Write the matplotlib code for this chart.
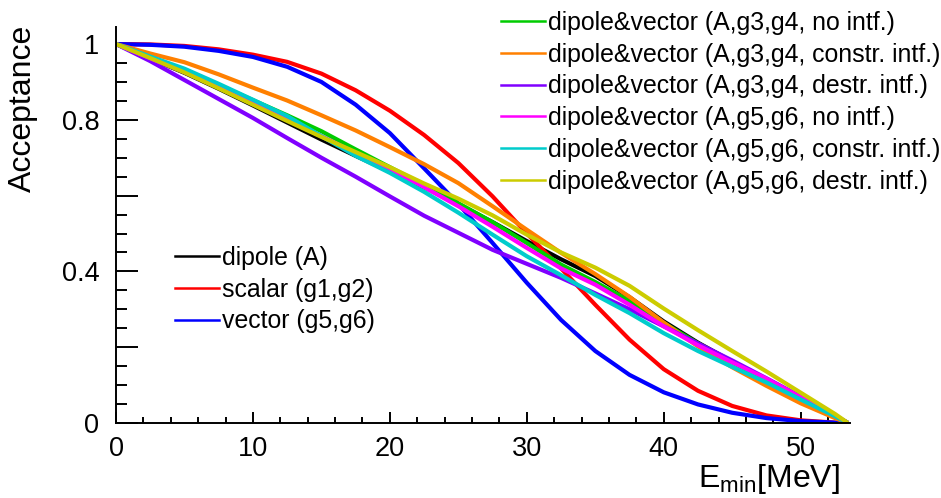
import matplotlib
matplotlib.use("Agg")
import matplotlib.pyplot as plt
from matplotlib.lines import Line2D
from matplotlib.ticker import MultipleLocator

plt.rcParams['font.family'] = ['Liberation Sans', 'DejaVu Sans']
plt.rcParams['mathtext.fontset'] = 'custom'
plt.rcParams['mathtext.rm'] = 'Liberation Sans'

# E_min grid (MeV) and acceptance values
e_min = [0, 2.5, 5, 7.5, 10, 12.5, 15, 17.5, 20, 22.5, 25, 27.5, 30,
         32.5, 35, 37.5, 40, 42.5, 45, 47.5, 50, 52.5, 53.45]

dipole = [1.0, 0.962, 0.924, 0.882, 0.838, 0.793, 0.748, 0.705, 0.663, 0.622, 0.578, 0.530,
          0.480, 0.432, 0.388, 0.332, 0.268, 0.212, 0.162, 0.113, 0.065, 0.018, 0.0]
scalar = [1.0, 0.999, 0.995, 0.986, 0.972, 0.953, 0.922, 0.878, 0.824, 0.76, 0.686, 0.598,
          0.50, 0.408, 0.312, 0.22, 0.142, 0.085, 0.045, 0.02, 0.007, 0.001, 0.0]
vector = [1.0, 0.998, 0.993, 0.982, 0.966, 0.94, 0.90, 0.84, 0.765, 0.672, 0.578, 0.475,
          0.37, 0.272, 0.19, 0.127, 0.081, 0.049, 0.027, 0.013, 0.005, 0.001, 0.0]
g34_no = [1.0, 0.965, 0.93, 0.892, 0.852, 0.812, 0.77, 0.722, 0.675, 0.628, 0.58, 0.53,
          0.475, 0.418, 0.372, 0.322, 0.264, 0.21, 0.16, 0.113, 0.066, 0.018, 0.0]
g34_con = [1.0, 0.975, 0.952, 0.92, 0.885, 0.851, 0.812, 0.772, 0.728, 0.683, 0.633, 0.572,
           0.51, 0.449, 0.393, 0.333, 0.265, 0.202, 0.147, 0.098, 0.052, 0.013, 0.0]
g34_des = [1.0, 0.955, 0.905, 0.855, 0.805, 0.752, 0.70, 0.65, 0.598, 0.547, 0.502, 0.457,
           0.42, 0.383, 0.342, 0.30, 0.255, 0.21, 0.165, 0.118, 0.07, 0.02, 0.0]
g56_no = [1.0, 0.963, 0.926, 0.886, 0.845, 0.80, 0.757, 0.712, 0.668, 0.622, 0.572, 0.518,
          0.462, 0.408, 0.365, 0.312, 0.255, 0.205, 0.16, 0.117, 0.068, 0.02, 0.0]
g56_con = [1.0, 0.967, 0.935, 0.895, 0.853, 0.81, 0.757, 0.705, 0.66, 0.61, 0.555, 0.497,
           0.44, 0.39, 0.338, 0.29, 0.237, 0.19, 0.148, 0.107, 0.062, 0.018, 0.0]
g56_des = [1.0, 0.963, 0.925, 0.883, 0.84, 0.797, 0.755, 0.715, 0.675, 0.632, 0.592, 0.548,
           0.497, 0.45, 0.41, 0.362, 0.302, 0.245, 0.19, 0.136, 0.08, 0.024, 0.0]

labels_low = ["dipole (A)", "scalar (g1,g2)", "vector (g5,g6)"]
labels_top = ["dipole&vector (A,g3,g4, no intf.)",
              "dipole&vector (A,g3,g4, constr. intf.)",
              "dipole&vector (A,g3,g4, destr. intf.)",
              "dipole&vector (A,g5,g6, no intf.)",
              "dipole&vector (A,g5,g6, constr. intf.)",
              "dipole&vector (A,g5,g6, destr. intf.)"]
colors_low = ["black", "#ff0000", "#0000ff"]
colors_top = ["#00cc00", "#ff8000", "#8000ff", "#ff00ff", "#00cccc", "#cccc00"]

W, H = 941, 498
fig = plt.figure(figsize=(W / 100, H / 100), dpi=100)
ax = fig.add_axes([116 / W, 1 - 423 / H, (850 - 116) / W, (423 - 27) / H])

lw = 3.0
for y, c in zip([dipole, scalar, vector], colors_low):
    ax.plot(e_min, y, color=c, lw=lw, solid_capstyle='butt', solid_joinstyle='round')
for y, c in zip([g34_no, g34_con, g34_des, g56_no, g56_con, g56_des], colors_top):
    ax.plot(e_min, y, color=c, lw=lw, solid_capstyle='butt', solid_joinstyle='round')

ax.set_xlim(0, 53.6)
ax.set_ylim(0, 1.045)
for s in ["top", "right"]:
    ax.spines[s].set_visible(False)
for s in ["left", "bottom"]:
    ax.spines[s].set_linewidth(1.4)

ax.set_xticks([0, 10, 20, 30, 40, 50])
ax.xaxis.set_minor_locator(MultipleLocator(2))
ax.set_yticks([0, 0.2, 0.4, 0.6, 0.8, 1.0])
ax.set_yticklabels(["0", "", "0.4", "", "0.8", "1"])
ax.yaxis.set_minor_locator(MultipleLocator(0.05))
ax.tick_params(axis='x', which='major', direction='in', length=8, width=1.4,
               labelsize=19.5, pad=9)
ax.tick_params(axis='x', which='minor', direction='in', length=4, width=1.4)
ax.tick_params(axis='y', which='major', direction='in', length=16, width=1.4,
               labelsize=19.5, pad=12)
ax.tick_params(axis='y', which='minor', direction='in', length=8, width=1.4)

fig.text(23 / W, 1 - 108 / H, "Acceptance", rotation=90, ha='center', va='center',
         fontsize=23)
fig.text(840 / W, 1 - 487 / H, r"E$_{\mathregular{min}}$[MeV]", ha='right',
         va='baseline', fontsize=23)

h_top = [Line2D([], [], color=c, lw=1.8) for c in colors_top]
leg1 = ax.legend(h_top, labels_top, loc='upper left', frameon=False,
                 bbox_to_anchor=(501 / W, 1 - 11 / H), bbox_transform=fig.transFigure,
                 fontsize=17.9, handlelength=1.75, handletextpad=0.16,
                 borderpad=0, borderaxespad=0, labelspacing=0.31)
ax.add_artist(leg1)
h_low = [Line2D([], [], color=c, lw=1.8) for c in colors_low]
ax.legend(h_low, labels_low, loc='upper left', frameon=False,
          bbox_to_anchor=(175 / W, 1 - 246 / H), bbox_transform=fig.transFigure,
          fontsize=17.9, handlelength=1.75, handletextpad=0.16,
          borderpad=0, borderaxespad=0, labelspacing=0.31)

fig.savefig("out.png", dpi=100)
